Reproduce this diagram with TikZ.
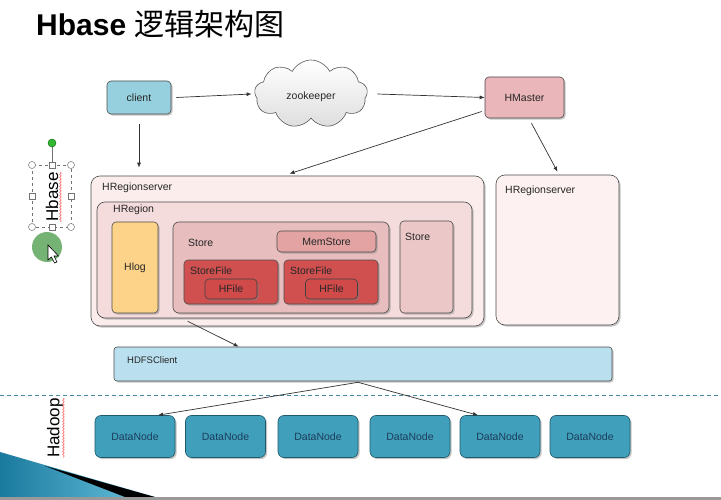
\documentclass[tikz,border=0pt]{standalone}
\usepackage{fontspec}
\setmainfont{Liberation Sans}
\newfontfamily\cjk{Noto Sans CJK SC}
\usetikzlibrary{shapes.symbols,shadows,arrows.meta,decorations.pathmorphing}
\definecolor{cliblue}{HTML}{96D0DE}
\definecolor{hdfsblue}{HTML}{BADFEE}
\definecolor{dnblue}{HTML}{40A0BC}
\definecolor{dnedge}{HTML}{1F5A6A}
\definecolor{dntext}{HTML}{1C3C5A}
\definecolor{hmpink}{HTML}{EAB6B9}
\definecolor{rsfill}{HTML}{FCEDED}
\definecolor{rs2fill}{HTML}{FDF1F1}
\definecolor{hrfill}{HTML}{F5DCDC}
\definecolor{storefill}{HTML}{E8BDBD}
\definecolor{storesm}{HTML}{ECC7C7}
\definecolor{memfill}{HTML}{E3A3A3}
\definecolor{sffill}{HTML}{D05050}
\definecolor{hffill}{HTML}{D04A4A}
\definecolor{hlogfill}{HTML}{FCD388}
\definecolor{dashblue}{HTML}{4A86A6}
\definecolor{wedgedark}{HTML}{1A7A9E}
\definecolor{wedgelight}{HTML}{6CC4E0}
\tikzset{
  lbl/.style={font=\fontsize{10.5}{12}\selectfont, text=black!85, inner sep=0pt},
  box/.style={draw=black!70, line width=0.6pt, rounded corners=4pt, inner sep=0pt,
     drop shadow={shadow xshift=1.6pt, shadow yshift=-1.6pt, opacity=0.45},
     font=\fontsize{10.5}{12}\selectfont, text=black!85},
  arr/.style={draw=black!80, line width=0.7pt, -{Latex[length=5pt,width=4pt]}},
  handle/.style={draw=black!55, fill=white, line width=0.5pt},
}
\begin{document}
\begin{tikzpicture}[x=1pt,y=-1pt]
\useasboundingbox[fill=white] (0,0) rectangle (721,500);

% title
\node[anchor=base west, inner sep=0pt, font=\fontsize{30}{34}\selectfont] (title) at (36,36)
  {\textbf{Hbase} \cjk 逻辑架构图};

% top row
\node[box, fill=cliblue, minimum width=64, minimum height=33] (client) at (139,97.5) {client};
\node[cloud, cloud puffs=9, cloud puff arc=125, aspect=1.75, draw=black!65, line width=0.6pt,
      top color=white, bottom color=black!13, minimum width=113, minimum height=68] (zk) at (311,94) {};
\node[lbl] (zkl) at (311,97) {zookeeper};
\node[box, fill=hmpink, minimum width=79, minimum height=41] (hm) at (524.5,97.5) {HMaster};

% region servers
\node[box, fill=rsfill, rounded corners=9pt, minimum width=393, minimum height=150] (rs1) at (287.5,251) {};
\node[lbl, anchor=west] (rs1l) at (102,188) {HRegionserver};
\node[box, fill=hrfill, rounded corners=8pt, minimum width=375, minimum height=116] (hr) at (284.5,260) {};
\node[lbl, anchor=west] (hrl) at (113,210) {HRegion};
\node[box, fill=hlogfill, minimum width=46, minimum height=91] (hlog) at (135,267.5) {Hlog};
\node[box, fill=storefill, rounded corners=6pt, minimum width=216, minimum height=91] (store) at (281,267.5) {};
\node[lbl, anchor=west] (storel) at (188,243) {Store};
\node[box, fill=memfill, minimum width=99, minimum height=21] (mem) at (326.5,241.5) {MemStore};
\node[box, fill=sffill, minimum width=94, minimum height=44] (sf1) at (231,282) {};
\node[lbl, anchor=west] (sf1l) at (190,270.5) {StoreFile};
\node[box, fill=hffill, draw=black!75, minimum width=52, minimum height=20] (hf1) at (231,289) {HFile};
\node[box, fill=sffill, minimum width=94, minimum height=44] (sf2) at (331,282) {};
\node[lbl, anchor=west] (sf2l) at (290,270.5) {StoreFile};
\node[box, fill=hffill, draw=black!75, minimum width=52, minimum height=20] (hf2) at (331.5,289) {HFile};
\node[box, fill=storesm, minimum width=53, minimum height=92] (store2) at (426.5,267) {};
\node[lbl, anchor=west] (store2l) at (405,237) {Store};

\node[box, fill=rs2fill, rounded corners=9pt, minimum width=123, minimum height=150] (rs2) at (557.5,250) {};
\node[lbl, anchor=west] (rs2l) at (505,191) {HRegionserver};

% HDFS client
\node[box, fill=hdfsblue, rounded corners=3pt, minimum width=498, minimum height=34] (hdfs) at (363,364) {};
\node[lbl, anchor=west, font=\fontsize{9.5}{11}\selectfont] (hdfsl) at (127,360) {HDFSClient};

% dashed separator
\draw[dashblue, line width=0.7pt, dash pattern=on 4pt off 3pt] (0,395) -- (721,395);

% data nodes
\foreach \i/\x in {1/135,2/225.5,3/318,4/410,5/500,6/590}{
  \node[box, fill=dnblue, draw=dnedge, rounded corners=6pt, minimum width=80, minimum height=42,
        text=dntext] (dn\i) at (\x,436.5) {DataNode};
}

% connectors
\draw[arr] ([xshift=5pt]client.east) -- ([xshift=-3pt]zk.west);
\draw[arr] ([xshift=10pt]zk.east) -- (hm.west);
\draw[arr] ([shift={(0,10)}]client.south) -- ([shift={(-148.5,-8)}]rs1.north);
\draw[arr] ([shift={(-3,14)}]hm.west) -- ([shift={(2,-2)}]rs1.north);
\draw[arr] ([shift={(7,5)}]hm.south) -- ([shift={(0,-3)}]rs2.north);
\draw[arr] ([shift={(97,-5)}]rs1.south west) -- ([shift={(125,0)}]hdfs.north west);
\draw[arr] ([shift={(-5,1)}]hdfs.south) -- ([xshift=23pt]dn1.north);
\draw[arr] ([shift={(-5,1)}]hdfs.south) -- ([xshift=-22pt]dn5.north);

% rotated labels
\node[rotate=90, inner sep=0pt, font=\fontsize{17}{20}\selectfont] (hbasev) at (52,197) {Hbase};
\draw[red!80, line width=0.4pt, decorate, decoration={snake, amplitude=0.8pt, segment length=3pt}]
  (60.5,172) -- (60.5,222);
\node[rotate=90, inner sep=0pt, font=\fontsize{17}{20}\selectfont] (hadoopv) at (55,428) {Hadoop};
\draw[red!80, line width=0.4pt, decorate, decoration={snake, amplitude=0.8pt, segment length=3pt}]
  (63.5,398) -- (63.5,458);

% selection frame around Hbase
\draw[black!55, dashed, line width=0.5pt] (32,165) rectangle (71,227);
\draw[black!55, line width=0.5pt] (52,147) -- (52,165);
\fill[green!65!black!80, draw=green!40!black] (52,143) circle (4);
\foreach \px/\py in {32/165,71/165,32/227,71/227}{\draw[handle] (\px,\py) circle (3.5);}
\foreach \px/\py in {52/165,52/227,32/196,71/196}{\draw[handle] (\px-2.8,\py-2.8) rectangle (\px+2.8,\py+2.8);}
\fill[green!45!black!60, opacity=0.9] (47,247) circle (15);
\draw[black, fill=white, line width=0.6pt] (48,245) -- (48,260) -- (51.5,257) -- (54.5,263) -- (57,262) -- (54,256) -- (58.5,256) -- cycle;

% bottom left decoration
\shade[left color=wedgedark, right color=wedgelight] (0,452) -- (155,497) -- (0,497) -- cycle;
\fill[black] (45,466) -- (155,497) -- (125,497) -- cycle;
\fill[black!40] (0,497) rectangle (721,500);
\end{tikzpicture}
\end{document}
